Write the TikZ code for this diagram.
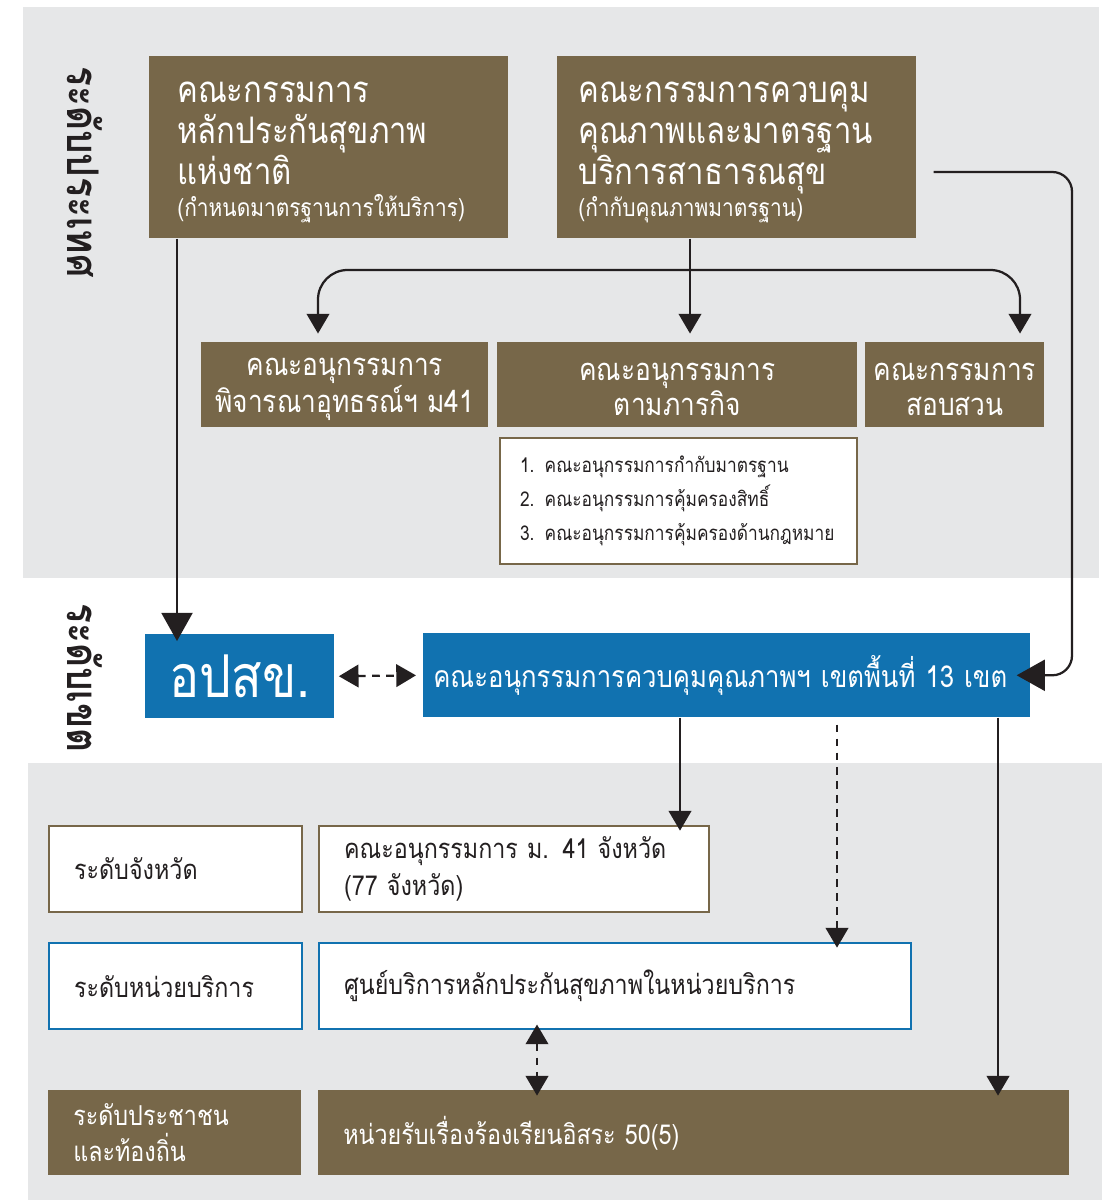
\documentclass[tikz,border=0pt]{standalone}
\usepackage{fontspec}
\setmainfont{Liberation Sans}
\newfontfamily\thaifont[Script=Thai, FakeStretch=0.85]{Loma}
\usetikzlibrary{arrows.meta,positioning}
\definecolor{nhsobrown}{RGB}{119,103,73}
\definecolor{nhsoblue}{RGB}{17,114,176}
\definecolor{bandgray}{RGB}{230,231,232}
\definecolor{ink}{RGB}{35,31,32}
\tikzset{
  box/.style={anchor=north west, inner sep=0pt, font=\thaifont, align=left},
  brownbox/.style={box, fill=nhsobrown, text=white},
  bluebox/.style={box, fill=nhsoblue, text=white},
  whitebox/.style={box, fill=white, draw=nhsobrown, line width=1.5pt, text=ink},
  bluelinebox/.style={box, fill=white, draw=nhsoblue, line width=1.5pt, text=ink},
  titlef/.style={font=\thaifont\fontsize{26}{29}\selectfont},
  subf/.style={font=\thaifont\fontsize{22}{25}\selectfont},
  rowf/.style={font=\thaifont\fontsize{19.5}{26}\selectfont},
  vlabel/.style={font=\thaifont\bfseries\fontsize{31}{34}\selectfont, text=ink, rotate=-90},
  conn/.style={draw=ink, line width=1.6pt},
  arr/.style={conn, -{Triangle[length=14pt,width=16pt]}},
  bigarr/.style={conn, -{Triangle[length=20pt,width=22pt]}},
  dasharr/.style={conn, dash pattern=on 5.5pt off 4.5pt, {Triangle[length=14pt,width=16pt]}-{Triangle[length=14pt,width=16pt]}}}

\begin{document}
\begin{tikzpicture}[x=0.025cm, y=-0.025cm]
  \useasboundingbox (0,0) rectangle (1111,1200);
  % background bands
  \fill[bandgray] (23,7) rectangle (1099,578);
  \fill[bandgray] (28,763) rectangle (1102,1200);

  \node[vlabel] (natlbl) at (85,172) {ระดับประเทศ};
  \node[vlabel] (zonelbl) at (85,678) {ระดับเขต};

  % national boards
  \node[brownbox, titlef, minimum width=8.975cm, minimum height=4.55cm, inner xsep=0.7cm, text width=7.575cm] (nhsb) at (149,56)
    {\rule{0pt}{22pt}คณะกรรมการ\\หลักประกันสุขภาพ\\แห่งชาติ\\[-6.5pt]{\fontsize{17.5}{20}\selectfont (กำหนดมาตรฐานการให้บริการ)}};
  \node[brownbox, titlef, minimum width=8.975cm, minimum height=4.55cm, inner xsep=0.525cm, text width=7.925cm] (qcb) at (557,56)
    {\rule{0pt}{22pt}คณะกรรมการควบคุม\\คุณภาพและมาตรฐาน\\บริการสาธารณสุข\\[-6.5pt]{\fontsize{17.5}{20}\selectfont (กำกับคุณภาพมาตรฐาน)}};

  \node[brownbox, subf, align=center, minimum width=7.175cm, minimum height=2.125cm] (apl41) at (201,342)
    {\rule{0pt}{19pt}คณะอนุกรรมการ\\พิจารณาอุทธรณ์ฯ ม41};
  \node[brownbox, subf, align=center, minimum width=9cm, minimum height=2.125cm] (mission) at (497,342)
    {\rule{0pt}{19pt}คณะอนุกรรมการ\\ตามภารกิจ};
  \node[brownbox, subf, align=center, minimum width=4.475cm, minimum height=2.125cm] (inquiry) at (865,342)
    {\rule{0pt}{19pt}คณะกรรมการ\\สอบสวน};
  \node[whitebox, font=\thaifont\fontsize{14.5}{24}\selectfont, minimum width=8.925cm, minimum height=3.15cm, inner xsep=0.5cm, text width=7.925cm] (missionlist) at (499,437)
    {1. คณะอนุกรรมการกำกับมาตรฐาน\\2. คณะอนุกรรมการคุ้มครองสิทธิ์\\3. คณะอนุกรรมการคุ้มครองด้านกฎหมาย};

  % regional level
  \node[bluebox, font=\thaifont\fontsize{42}{44}\selectfont, align=center, minimum width=4.725cm, minimum height=2.1cm] (opsk) at (145,634) {อปสข.};
  \node[bluebox, font=\thaifont\fontsize{21.5}{24}\selectfont, minimum width=15.175cm, minimum height=2.1cm, inner xsep=0.25cm, text width=14.675cm] (zone) at (423,633)
    {คณะอนุกรรมการควบคุมคุณภาพฯ เขตพื้นที่ 13 เขต};

  % local levels
  \node[whitebox, rowf, minimum width=6.325cm, minimum height=2.15cm, inner xsep=0.625cm, text width=5.075cm] (provlbl) at (48,825) {ระดับจังหวัด};
  \node[whitebox, rowf, minimum width=9.75cm, minimum height=2.15cm, inner xsep=0.625cm, text width=8.5cm] (prov) at (318,825)
    {คณะอนุกรรมการ ม. 41 จังหวัด\\(77 จังหวัด)};
  \node[bluelinebox, rowf, minimum width=6.325cm, minimum height=2.15cm, inner xsep=0.625cm, text width=5.075cm] (unitlbl) at (48,942) {ระดับหน่วยบริการ};
  \node[bluelinebox, rowf, minimum width=14.8cm, minimum height=2.15cm, inner xsep=0.625cm, text width=13.55cm] (unit) at (318,942)
    {ศูนย์บริการหลักประกันสุขภาพในหน่วยบริการ};
  \node[brownbox, rowf, minimum width=6.325cm, minimum height=2.125cm, inner xsep=0.625cm, text width=5.075cm] (complbl) at (48,1090)
    {ระดับประชาชน\\และท้องถิ่น};
  \node[brownbox, rowf, minimum width=18.775cm, minimum height=2.125cm, inner xsep=0.625cm, text width=17.525cm] (comp) at (318,1090)
    {หน่วยรับเรื่องร้องเรียนอิสระ 50(5)};

  % connectors
  \coordinate (fork) at (690,270);
  \coordinate (loop) at (1072,172);
  \draw[bigarr, shorten >=-5pt] (177,0 |- nhsb.south) -- (177,0 |- opsk.north);
  \draw[arr, shorten >=6pt] (fork |- qcb.south) -- (fork |- mission.north);
  \draw[arr, rounded corners=21pt, shorten >=6pt] (fork) -| (318,0 |- apl41.north);
  \draw[arr, rounded corners=21pt, shorten >=6pt] (fork) -| (1020,0 |- inquiry.north);
  \draw[bigarr, rounded corners=14pt, shorten <=12pt, shorten >=-10pt] (loop -| qcb.east) -- (loop) |- (zone.east);
  \draw[dasharr, shorten <=3pt, shorten >=5pt] (opsk.east) -- (zone.west);
  \draw[arr, shorten >=-4pt] (680,0 |- zone.south) -- (680,0 |- prov.north);
  \draw[arr, dash pattern=on 5.5pt off 4.5pt, shorten <=5pt, shorten >=-4pt] (837,0 |- zone.south) -- (837,0 |- unit.north);
  \draw[arr, shorten >=-4pt] (998,0 |- zone.south) -- (998,0 |- comp.north);
  \draw[dasharr, shorten <=-4pt, shorten >=-4pt] (537,0 |- unit.south) -- (537,0 |- comp.north);
\end{tikzpicture}
\end{document}
